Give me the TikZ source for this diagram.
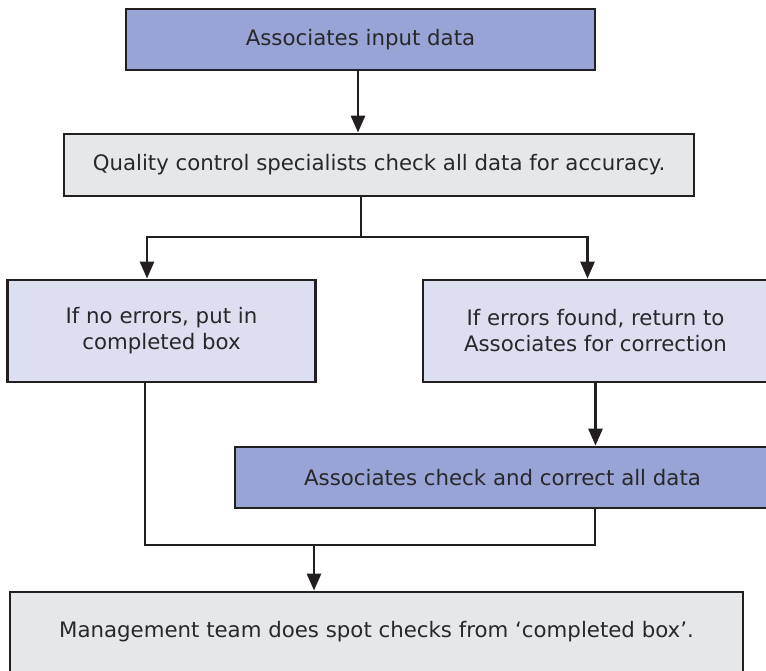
\documentclass[tikz,border=0pt]{standalone}
\usepackage{fontspec}
\setmainfont{DejaVu Sans}
\usetikzlibrary{arrows.meta}
\definecolor{periw}{RGB}{151,164,213}
\definecolor{lavend}{RGB}{220,223,240}
\definecolor{lightgr}{RGB}{230,231,233}
\definecolor{inkc}{RGB}{35,31,32}
\definecolor{textc}{RGB}{40,40,42}
\begin{document}
\begin{tikzpicture}[x=1pt,y=-1pt,
  box/.style={draw=inkc, line width=2.8pt, inner sep=0pt, align=center,
    text=textc, font=\fontsize{21.3}{26}\selectfont},
  link/.style={draw=inkc, line width=2.8pt},
  arr/.style={link, -{Triangle[length=17pt,width=14pt]}}]
\useasboundingbox (0,0) rectangle (766,671);
\clip (0,0) rectangle (766,671);

% process boxes
\node[box, fill=periw, minimum width=469, minimum height=61] (b1) at (360.5,39.5) {Associates input data};
\node[box, fill=lightgr, minimum width=630, minimum height=62] (b2) at (379,165) {Quality control specialists check all data for accuracy.};
\node[box, fill=lavend, minimum width=308, minimum height=102] (b3) at (161.5,331) {If no errors, put in\\completed box};
\node[box, fill=lavend, minimum width=345, minimum height=102] (b4) at (595.5,331) {If errors found, return to\\Associates for correction};
\node[box, fill=periw, minimum width=535, minimum height=61] (b5) at (502.5,477.5) {Associates check and correct all data};
\node[box, fill=lightgr, minimum width=733, minimum height=80] (b6) at (376.5,632) {Management team does spot checks from ‘completed box’.};

% junction points
\coordinate (split) at (361,237);
\coordinate (merge) at (314,545);

% connectors
\draw[arr] ([xshift=-2.5pt]b1.south) -- ([xshift=-2.5pt]b1.south |- b2.north);
\draw[link] (split |- b2.south) -- (split);
\draw[arr] (split) -| ([xshift=-14.5pt]b3.north);
\draw[arr] (split) -| ([xshift=-8pt]b4.north);
\draw[arr] (b4.south) -- (b4.south |- b5.north);
\draw[link] ([xshift=-16.5pt]b3.south) |- (merge);
\draw[link] ([xshift=92.5pt]b5.south) |- (merge);
\draw[arr] (merge) -- (merge |- b6.north);
\end{tikzpicture}
\end{document}
